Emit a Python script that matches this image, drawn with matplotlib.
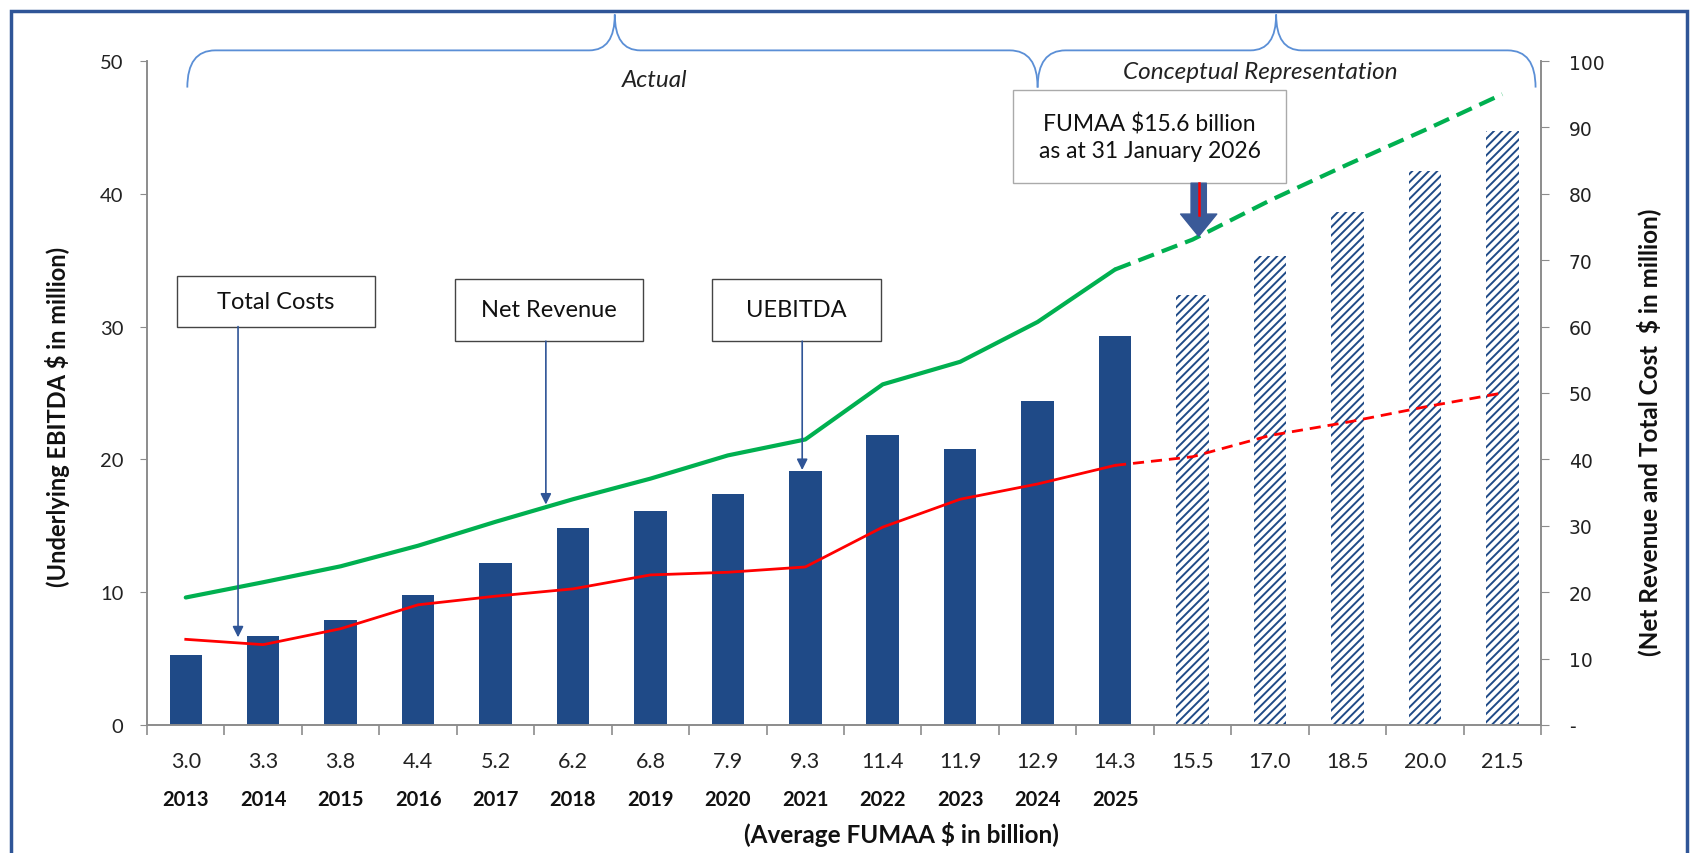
import matplotlib
matplotlib.use('Agg')
import matplotlib.pyplot as plt
from matplotlib.patches import Rectangle, PathPatch
from matplotlib.path import Path

# dane
fumaa = ['3.0', '3.3', '3.8', '4.4', '5.2', '6.2', '6.8', '7.9', '9.3', '11.4', '11.9',
         '12.9', '14.3', '15.5', '17.0', '18.5', '20.0', '21.5']
years = ['2013', '2014', '2015', '2016', '2017', '2018', '2019', '2020', '2021', '2022',
         '2023', '2024', '2025']
uebitda = [5.3, 6.7, 7.9, 9.8, 12.2, 14.8, 16.1, 17.4, 19.1, 21.8, 20.8, 24.4, 29.3,
           32.4, 35.3, 38.6, 41.7, 44.7]
net_revenue = [19.2, 21.5, 23.9, 27.0, 30.6, 34.0, 37.1, 40.6, 43.0, 51.3, 54.7, 60.7, 68.6,
               73.1, 79.0, 84.4, 89.6, 95.0]
total_costs = [12.9, 12.1, 14.5, 18.1, 19.4, 20.5, 22.6, 23.0, 23.8, 29.8, 34.0, 36.3, 39.1,
               40.4, 43.6, 45.6, 47.9, 50.0]
n_actual = len(years)

BLUE = '#1F4A87'
GREEN = '#00B050'
RED = '#FF0000'
ARROW = '#2F5597'
BRACE = '#5B8FD6'
FONT = 'Lato'

plt.rcParams['font.family'] = [FONT, 'DejaVu Sans']
plt.rcParams['hatch.linewidth'] = 1.4

fig = plt.figure(figsize=(16.96, 8.54), dpi=100)
ax = fig.add_axes([0.0867, 0.1499, 0.8219, 0.7775])
ax2 = ax.twinx()

x = list(range(len(fumaa)))

# slupki UEBITDA
ax.bar(x[:n_actual], uebitda[:n_actual], width=0.42, color=BLUE, zorder=2)
ax.bar(x[n_actual:], uebitda[n_actual:], width=0.42, facecolor='white', edgecolor=BLUE,
       hatch='////', linewidth=0, zorder=2)

# linie: przychody i koszty
ax2.plot(x[:n_actual], net_revenue[:n_actual], color=GREEN, lw=3, solid_capstyle='round')
ax2.plot(x[n_actual - 1:], net_revenue[n_actual - 1:], color=GREEN, lw=3, ls=(0, (4, 2)))
ax2.plot(x[:n_actual], total_costs[:n_actual], color=RED, lw=2)
ax2.plot(x[n_actual - 1:], total_costs[n_actual - 1:], color=RED, lw=2, ls=(0, (4, 2.5)))

ax.set_xlim(-0.5, len(fumaa) - 0.5)
ax.set_ylim(0, 50)
ax2.set_ylim(0, 100)

# osie
for a in (ax, ax2):
    a.spines['top'].set_visible(False)
    for s in ('left', 'right', 'bottom'):
        a.spines[s].set_color('#8C8C8C')
        a.spines[s].set_linewidth(1.2)

ax.set_yticks(range(0, 51, 10))
ax.tick_params(axis='y', labelsize=14.5, colors='#8C8C8C', labelcolor='#222222', length=5, pad=12)
ax2.set_yticks(range(0, 101, 10))
ax2.set_yticklabels(['-'] + [str(v) for v in range(10, 101, 10)], family='DejaVu Sans')
ax2.tick_params(axis='y', labelsize=13.5, colors='#8C8C8C', labelcolor='#222222', length=6, pad=14)

ax.set_xticks(x)
ax.set_xticklabels(fumaa)
ax.set_xticks([i - 0.5 for i in range(len(fumaa) + 1)], minor=True)
ax.tick_params(axis='x', which='major', length=0, pad=19, labelsize=15.5, labelcolor='#222222')
ax.tick_params(axis='x', which='minor', length=7, color='#8C8C8C', width=1.2)

for i, yr in enumerate(years):
    ax.text(i, -0.111, yr, transform=ax.get_xaxis_transform(), ha='center', va='center',
            fontsize=14.5, fontweight='bold', color='#111111')

ax.text(0.541, -0.164, '(Average FUMAA $ in billion)', transform=ax.transAxes, ha='center',
        va='center', fontsize=17.5, fontweight='bold', color='#111111')
ax.text(-0.064, 0.465, '(Underlying EBITDA $ in million)', transform=ax.transAxes, rotation=90,
        ha='center', va='center', fontsize=17, fontweight='bold', color='#111111')
ax.text(1.077, 0.443, '(Net Revenue and Total Cost  $ in million)', transform=ax.transAxes,
        rotation=90, ha='center', va='center', fontsize=17.5, fontweight='bold', color='#111111')


# nawiasy klamrowe nad wykresem
def brace(a, x0, x1, xm, ylo=48.0, ymid=50.8, ytop=53.5, r=0.36, rt=0.33):
    verts = [(x0, ylo), (x0, ymid), (x0 + r, ymid),
             (xm - rt, ymid), (xm, ymid), (xm, ytop),
             (xm, ymid), (xm + rt, ymid),
             (x1 - r, ymid), (x1, ymid), (x1, ylo)]
    codes = [Path.MOVETO, Path.CURVE3, Path.CURVE3,
             Path.LINETO, Path.CURVE3, Path.CURVE3,
             Path.CURVE3, Path.CURVE3,
             Path.LINETO, Path.CURVE3, Path.CURVE3]
    a.add_patch(PathPatch(Path(verts, codes), facecolor='none', edgecolor=BRACE, lw=1.3,
                          transform=ax.transData, clip_on=False))


brace(ax2, 0.02, 11.0, 5.54)
brace(ax2, 11.0, 17.43, 14.08)
ax2.text(6.05, 48.6, 'Actual', transform=ax.transData, ha='center', va='center',
         fontsize=17.5, style='italic', color='#222222')
ax2.text(13.88, 49.2, 'Conceptual Representation', transform=ax.transData, ha='center',
         va='center', fontsize=17.5, style='italic', color='#222222')


# opisy ze strzalkami
def label_box(a, x0, x1, y0, y1, txt, ax_x, tip_y):
    a.add_patch(Rectangle((x0, y0), x1 - x0, y1 - y0, facecolor='white', edgecolor='#444444',
                          lw=1.0, transform=ax.transData, zorder=5, clip_on=False))
    a.text((x0 + x1) / 2, (y0 + y1) / 2, txt, transform=ax.transData, ha='center',
           va='center', fontsize=17, color='#111111', zorder=6)
    a.annotate('', xy=(ax_x, tip_y), xytext=(ax_x, y0), xycoords=ax.transData,
               textcoords=ax.transData, zorder=5,
               arrowprops=dict(arrowstyle='-|>', color=ARROW, lw=1.2, mutation_scale=16,
                               shrinkA=0, shrinkB=0))


label_box(ax2, -0.11, 2.44, 30.0, 33.8, 'Total Costs', 0.675, 6.6)
label_box(ax2, 3.48, 5.9, 28.9, 33.6, 'Net Revenue', 4.65, 16.6)
label_box(ax2, 6.79, 8.98, 28.9, 33.6, 'UEBITDA', 7.96, 19.2)

ax2.add_patch(Rectangle((10.68, 40.8), 3.53, 7.0, facecolor='white', edgecolor='#AAAAAA',
                        lw=1.0, transform=ax.transData, zorder=5, clip_on=False))
ax2.text(12.445, 44.3, 'FUMAA $15.6 billion\nas at 31 January 2026', transform=ax.transData,
         ha='center', va='center', fontsize=16.5, linespacing=1.35, color='#111111', zorder=6)
ax2.annotate('', xy=(13.08, 36.8), xytext=(13.08, 40.8), xycoords=ax.transData,
             textcoords=ax.transData, zorder=5,
             arrowprops=dict(arrowstyle='simple,head_width=1.3,head_length=0.8,tail_width=0.55',
                             color='#3A5A98', shrinkA=0, shrinkB=0, mutation_scale=20))
ax2.plot([13.08, 13.08], [2 * 38.4, 2 * 40.8], color=RED, lw=1.8, zorder=6)

# ramka wokol calosci
fig.patches.append(Rectangle((11 / 1696, -0.05), 1676 / 1696, 1 - 12 / 854 + 0.05,
                             transform=fig.transFigure, fill=False, edgecolor='#2F5597',
                             lw=2.5, clip_on=False))

fig.savefig('out.png', dpi=100)
